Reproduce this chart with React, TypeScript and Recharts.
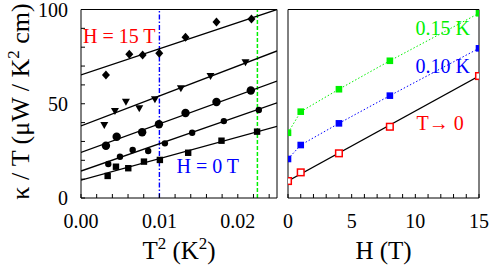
import React from 'react';
import { ComposedChart, Scatter, Line, XAxis, YAxis, ReferenceLine } from 'recharts';

const FONT = 'Liberation Serif, Tinos, Times New Roman, serif';

// ---------- Left panel: kappa/T vs T^2 ----------
const t2H0 = [0.0034, 0.00446, 0.00603, 0.00803, 0.01006, 0.01367, 0.01792, 0.02246];
const kH0 = [11.7, 16.6, 15.8, 19.3, 20.2, 24.0, 30.4, 35.2];
const t2H1 = [0.00348, 0.00497, 0.00659, 0.00857, 0.0107, 0.01418, 0.01822, 0.02268];
const kH1 = [18.0, 21.9, 25.5, 24.9, 29.0, 34.6, 40.8, 46.7];
const t2H4 = [0.00318, 0.00455, 0.0078, 0.00994, 0.01333, 0.01728, 0.02166];
const kH4 = [27.7, 32.5, 34.9, 39.1, 45.1, 50.9, 57.0];
const t2H8 = [0.00297, 0.00433, 0.00573, 0.00743, 0.00943, 0.01274, 0.01652, 0.02098];
const kH8 = [38.7, 46.2, 51.1, 47.6, 52.4, 58.2, 64.7, 72.0];
const t2H15 = [0.00318, 0.00616, 0.00786, 0.00998, 0.01333, 0.01728, 0.02174];
const kH15 = [65.3, 76.2, 75.9, 76.8, 85.3, 93.4, 95.0];

// fit lines (end points)
const fitT2 = [0, 0.025];
const fitH0 = [9.5, 38.0];
const fitH1 = [14.3, 50.5];
const fitH4 = [24.2, 62.0];
const fitH8 = [38.2, 78.0];
const fitH15 = [65.3, 100.0];

const leftXTicks = [0, 0.002, 0.004, 0.006, 0.008, 0.01, 0.012, 0.014, 0.016, 0.018, 0.02, 0.022, 0.024];
const leftXLabels: Record<string, string> = { '0': '0.00', '0.01': '0.01', '0.02': '0.02' };
const yTicks = [0, 10, 20, 30, 40, 50, 60, 70, 80, 90, 100];
const yLabels: Record<string, string> = { '0': '0', '50': '50', '100': '100' };
const tLine010 = 0.01;
const tLine015 = 0.0225;

// ---------- Right panel: kappa/T vs H ----------
const fieldH = [0, 1, 4, 8, 15];
const k015 = [34.6, 45.8, 57.7, 72.8, 98.0];
const k010 = [20.7, 28.1, 39.6, 54.3, 79.4];
const kT0 = [9.0, 13.6, 23.7, 37.8, 64.7];
const fitH = [0, 15];
const fitT0 = [9.0, 64.7];
const rightXTicks = [0, 1, 2, 3, 4, 5, 6, 7, 8, 9, 10, 11, 12, 13, 14, 15];
const rightXLabels: Record<string, string> = { '0': '0', '5': '5', '10': '10', '15': '15' };

const zip = (xs: number[], ys: number[]) => xs.map((x, i) => ({ x, y: ys[i] }));

const GREEN = '#00f000';
const BLUE = '#0000ff';
const RED = '#ff0000';

const sq = (p: any) => <rect x={p.cx - 3.2} y={p.cy - 3.2} width={6.4} height={6.4} fill="#000" />;
const smallCircle = (p: any) => <circle cx={p.cx} cy={p.cy} r={3.2} fill="#000" />;
const bigCircle = (p: any) => <circle cx={p.cx} cy={p.cy} r={4.2} fill="#000" />;
const triDown = (p: any) => (
  <polygon points={`${p.cx - 4},${p.cy - 3} ${p.cx + 4},${p.cy - 3} ${p.cx},${p.cy + 4}`} fill="#000" />
);
const diamond = (p: any) => (
  <polygon points={`${p.cx},${p.cy - 4.5} ${p.cx + 4},${p.cy} ${p.cx},${p.cy + 4.5} ${p.cx - 4},${p.cy}`} fill="#000" />
);
const colSq = (c: string) => (p: any) => <rect x={p.cx - 3.3} y={p.cy - 3.3} width={6.6} height={6.6} fill={c} />;
const openRed = (p: any) => (
  <g>
    {p.payload && p.payload.x === 0 ? (
      <g stroke={RED} strokeWidth={1}>
        <line x1={p.cx - 8} x2={p.cx + 2} y1={p.cy - 2} y2={p.cy - 2} />
        <line x1={p.cx - 8} x2={p.cx + 2} y1={p.cy + 2} y2={p.cy + 2} />
      </g>
    ) : null}
    <rect x={p.cx - 3.3} y={p.cy - 3.3} width={6.6} height={6.6} fill="#fff" stroke={RED} strokeWidth={1.5} />
  </g>
);

const tickStyle = { fontSize: 20, fill: '#000', style: { fontFamily: FONT } };

const fmt = (map: Record<string, string>) => (v: number) => {
  const key = String(Math.round(v * 10000) / 10000);
  return map[key] ?? '';
};

const XTitle = (text: React.ReactNode) => (p: any) => {
  const vb = p.viewBox || {};
  return (
    <text x={vb.x + vb.width / 2} y={259} textAnchor="middle" fontSize={25} style={{ fontFamily: FONT }} fill="#000">
      {text}
    </text>
  );
};

const YTitle = (p: any) => (
  <text
    x={28.5}
    y={101.5}
    transform="rotate(-90 28.5 101.5)"
    textAnchor="middle"
    fontSize={26}
    style={{ fontFamily: FONT }}
    fill="#000"
  >
    κ / T (μW / K<tspan fontSize={17} dy={-10}>2</tspan>
    <tspan dy={10}> cm)</tspan>
  </text>
);

const axisCommon = {
  axisLine: { stroke: '#000', strokeWidth: 1 },
  tickLine: { stroke: '#000', strokeWidth: 1 },
  tickSize: -4,
};

function LeftPanel() {
  return (
    <ComposedChart width={280} height={270} margin={{ top: 0, right: 0, bottom: 0, left: 0 }}>
      <XAxis
        xAxisId="b"
        dataKey="x"
        type="number"
        domain={[0, 0.025]}
        ticks={leftXTicks}
        interval={0}
        tickFormatter={fmt(leftXLabels)}
        tick={tickStyle}
        tickMargin={20}
        height={72}
        allowDataOverflow
        label={{ content: XTitle(<>T<tspan fontSize={17} dy={-10}>2</tspan><tspan dy={10}> (K</tspan><tspan fontSize={17} dy={-10}>2</tspan><tspan dy={10}>)</tspan></>) }}
        {...axisCommon}
      />
      <XAxis
        xAxisId="t"
        orientation="top"
        type="number"
        domain={[0, 0.025]}
        ticks={leftXTicks}
        interval={0}
        tick={false}
        height={9.5}
        allowDataOverflow
        {...axisCommon}
      />
      <YAxis
        yAxisId="l"
        type="number"
        domain={[0, 100]}
        ticks={yTicks}
        interval={0}
        tickFormatter={fmt(yLabels)}
        tick={tickStyle}
        tickMargin={17}
        width={81}
        allowDataOverflow
        label={{ content: YTitle }}
        {...axisCommon}
      />
      <YAxis
        yAxisId="r"
        orientation="right"
        type="number"
        domain={[0, 100]}
        ticks={yTicks}
        interval={0}
        tick={false}
        width={3}
        allowDataOverflow
        {...axisCommon}
      />
      <ReferenceLine xAxisId="b" yAxisId="l" x={tLine010} stroke={BLUE} strokeWidth={1.4} strokeDasharray="5 2 1.5 2" />
      <ReferenceLine xAxisId="b" yAxisId="l" x={tLine015} stroke={GREEN} strokeWidth={1.5} strokeDasharray="4 2" />
      {[fitH0, fitH1, fitH4, fitH8, fitH15].map((f, i) => (
        <Line
          key={'f' + i}
          xAxisId="b"
          yAxisId="l"
          data={zip(fitT2, f)}
          dataKey="y"
          type="linear"
          stroke="#000"
          strokeWidth={1.3}
          dot={false}
          activeDot={false}
          isAnimationActive={false}
        />
      ))}
      <Scatter xAxisId="b" yAxisId="l" data={zip(t2H0, kH0)} dataKey="y" shape={sq} isAnimationActive={false} />
      <Scatter xAxisId="b" yAxisId="l" data={zip(t2H1, kH1)} dataKey="y" shape={smallCircle} isAnimationActive={false} />
      <Scatter xAxisId="b" yAxisId="l" data={zip(t2H4, kH4)} dataKey="y" shape={bigCircle} isAnimationActive={false} />
      <Scatter xAxisId="b" yAxisId="l" data={zip(t2H8, kH8)} dataKey="y" shape={triDown} isAnimationActive={false} />
      <Scatter xAxisId="b" yAxisId="l" data={zip(t2H15, kH15)} dataKey="y" shape={diamond} isAnimationActive={false} />
    </ComposedChart>
  );
}

function RightPanel() {
  return (
    <ComposedChart width={211} height={270} margin={{ top: 0, right: 0, bottom: 0, left: 0 }}>
      <XAxis
        xAxisId="b"
        dataKey="x"
        type="number"
        domain={[0, 15]}
        ticks={rightXTicks}
        interval={0}
        tickFormatter={fmt(rightXLabels)}
        tick={tickStyle}
        tickMargin={20}
        height={72}
        allowDataOverflow
        label={{ content: XTitle('H (T)') }}
        {...axisCommon}
      />
      <XAxis
        xAxisId="t"
        orientation="top"
        type="number"
        domain={[0, 15]}
        ticks={rightXTicks}
        interval={0}
        tick={false}
        height={9.5}
        allowDataOverflow
        {...axisCommon}
      />
      <YAxis
        yAxisId="l"
        type="number"
        domain={[0, 100]}
        ticks={yTicks}
        interval={0}
        tick={false}
        width={8}
        allowDataOverflow
        {...axisCommon}
      />
      <YAxis
        yAxisId="r"
        orientation="right"
        type="number"
        domain={[0, 100]}
        ticks={yTicks}
        interval={0}
        tick={false}
        width={12}
        allowDataOverflow
        {...axisCommon}
      />
      <Line xAxisId="b" yAxisId="l" data={zip(fieldH, k015)} dataKey="y" type="linear" stroke={GREEN} strokeWidth={1} strokeDasharray="1.5 2" dot={false} activeDot={false} isAnimationActive={false} />
      <Line xAxisId="b" yAxisId="l" data={zip(fieldH, k010)} dataKey="y" type="linear" stroke={BLUE} strokeWidth={1} strokeDasharray="1.5 2" dot={false} activeDot={false} isAnimationActive={false} />
      <Line xAxisId="b" yAxisId="l" data={zip(fitH, fitT0)} dataKey="y" type="linear" stroke="#000" strokeWidth={1.3} dot={false} activeDot={false} isAnimationActive={false} />
      <Scatter xAxisId="b" yAxisId="l" data={zip(fieldH, k015)} dataKey="y" shape={colSq(GREEN)} isAnimationActive={false} />
      <Scatter xAxisId="b" yAxisId="l" data={zip(fieldH, k010)} dataKey="y" shape={colSq(BLUE)} isAnimationActive={false} />
      <Scatter xAxisId="b" yAxisId="l" data={zip(fieldH, kT0)} dataKey="y" shape={openRed} isAnimationActive={false} />
    </ComposedChart>
  );
}

export default function App() {
  const ann = { fontSize: 20, style: { fontFamily: FONT } } as const;
  return (
    <div style={{ position: 'absolute', left: 0, top: 0, width: 491, height: 270, background: '#fff', overflow: 'hidden', fontFamily: FONT }}>
      <div style={{ position: 'absolute', left: 0, top: 0 }}>
        <LeftPanel />
      </div>
      <div style={{ position: 'absolute', left: 280, top: 0 }}>
        <RightPanel />
      </div>
      <svg width={491} height={270} style={{ position: 'absolute', left: 0, top: 0, pointerEvents: 'none' }}>
        <text x={83} y={43} fill={RED} {...ann}>H = 15 T</text>
        <text x={176.5} y={173} fill={BLUE} {...ann}>H = 0 T</text>
        <text x={470} y={35} textAnchor="end" fill={GREEN} {...ann}>0.15 K</text>
        <text x={470} y={73} textAnchor="end" fill={BLUE} {...ann}>0.10 K</text>
        <text x={416.5} y={130} fill={RED} {...ann}>T→ 0</text>
      </svg>
    </div>
  );
}
